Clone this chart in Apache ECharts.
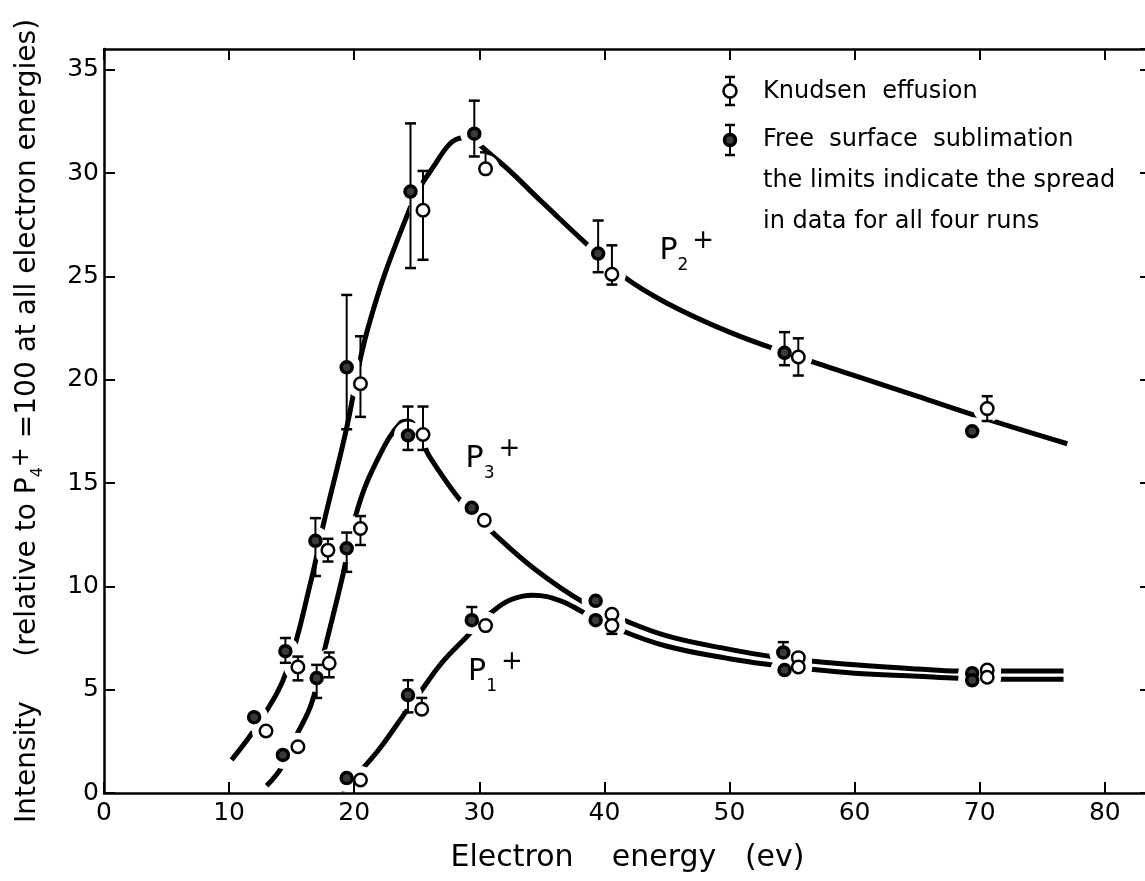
<!DOCTYPE html>
<html>
<head>
<meta charset="utf-8">
<script src="https://cdn.jsdelivr.net/npm/echarts@6/dist/echarts.min.js"></script>
<style>
html,body{margin:0;padding:0;background:#fff;}
#chart{width:1145px;height:881px;}
</style>
</head>
<body>
<div id="chart"></div>
<script>
// fitted curves: [electron energy (ev), intensity]
var p2Curve=[[10.2,1.6],[12.5,3.5],[14.6,5.9],[16.6,10.4],[17.5,12.9],[19.3,17.4],[21.1,22.5],[24.2,27.9],[26.1,30.1],[28.7,31.7],[31.3,30.7],[35,28.6],[38.7,26.5],[41.5,25.0],[45,23.7],[50,22.3],[55,21.2],[60,20.2],[65,19.2],[70,18.2],[77,16.9]];
var p3Curve=[[13.0,0.35],[14.2,1.25],[15.4,2.8],[16.6,4.35],[17.7,7.1],[19.0,10.3],[20.3,13.8],[22,16.3],[23.7,17.9],[24.3,18.0],[26.1,16.2],[28.7,14.0],[30.9,12.7],[34.5,10.8],[38.4,9.2],[41.2,8.45],[45,7.6],[50,6.95],[53.4,6.6],[56.3,6.4],[60,6.2],[65,6.0],[68.3,5.9],[71.2,5.9],[76.7,5.9]];
var p1Curve=[[19.0,0.1],[20.7,1.2],[22.1,2.2],[24.1,3.9],[25.3,4.9],[27,6.3],[28.9,7.5],[30.9,8.7],[32.5,9.35],[34.3,9.57],[36.5,9.3],[38.3,8.75],[41.2,7.9],[45,7.1],[50,6.5],[53.4,6.2],[56.3,6.0],[60,5.8],[65,5.65],[68.3,5.55],[71.2,5.5],[76.7,5.5]];

// measured points: [ev, intensity, lower limit, upper limit]
var knudsen=[
    [12.95,3.0,3.0,3.0],[15.5,6.1,5.45,6.6],[17.9,11.75,11.2,12.3],[20.5,19.8,18.2,22.1],[25.5,28.2,25.8,30.1],
    [30.5,30.2,30.2,31.0],[40.6,25.1,24.6,26.5],[55.5,21.1,20.2,22.0],[70.6,18.6,18.0,19.2],
    [15.5,2.24,2.24,2.24],[18.0,6.28,5.6,6.8],[20.5,12.8,12.0,13.4],[25.5,17.35,16.6,18.7],[30.4,13.2,13.2,13.2],
    [40.6,8.65,8.65,8.65],[55.5,6.55,6.55,6.55],[70.6,5.95,5.95,5.95],
    [20.5,0.63,0.63,0.63],[25.4,4.05,4.05,4.6],[30.5,8.1,8.1,8.1],[40.6,8.1,7.7,8.1],[55.5,6.1,6.1,6.1],[70.6,5.6,5.6,5.6]
];
var freeSurface=[
    [12.0,3.67,3.67,3.67],[14.5,6.86,6.3,7.5],[16.9,12.2,10.5,13.3],[19.4,20.6,17.6,24.1],[24.5,29.1,25.4,32.4],
    [29.6,31.9,30.8,33.5],[39.5,26.1,25.2,27.7],[54.4,21.3,20.7,22.3],[69.4,17.5,17.5,17.5],
    [14.3,1.84,1.84,1.84],[17.0,5.56,4.6,6.2],[19.4,11.84,10.7,12.6],[24.3,17.3,16.6,18.7],[29.4,13.8,13.8,13.8],
    [39.3,9.3,9.3,9.3],[54.3,6.8,6.8,7.3],[69.4,5.8,5.8,5.8],
    [19.4,0.72,0.72,0.72],[24.3,4.74,3.9,5.46],[29.4,8.36,8.36,9.0],[39.3,8.36,8.36,8.36],[54.4,5.95,5.95,5.95],[69.4,5.45,5.45,5.45]
];

// curve labels: [subscript, ev, intensity]
var curveLabels=[['2',44.4,26.2],['3',28.9,16.15],['1',29.1,5.85]];

var xMax=83.7, yMax=36;
var font='DejaVu Sans';

var allPoints=knudsen.concat(freeSurface);
var bars=allPoints.filter(function(p){return p[2]<p[1]||p[3]>p[1];});

function errorBar(params,api){
    var x=api.value(0),y=api.value(1),lo=api.value(2),hi=api.value(3);
    var top=api.coord([x,hi]),bot=api.coord([x,lo]),w=5.5;
    var kids=[{type:'line',shape:{x1:top[0],y1:top[1],x2:bot[0],y2:bot[1]},style:{stroke:'#000',lineWidth:2}}];
    if(hi>y) kids.push({type:'line',shape:{x1:top[0]-w,y1:top[1],x2:top[0]+w,y2:top[1]},style:{stroke:'#000',lineWidth:2.5}});
    if(lo<y) kids.push({type:'line',shape:{x1:bot[0]-w,y1:bot[1],x2:bot[0]+w,y2:bot[1]},style:{stroke:'#000',lineWidth:2.5}});
    return {type:'group',children:kids};
}

function curve(data){
    return {type:'line',data:data,showSymbol:false,smooth:0.4,
        lineStyle:{color:'#000',width:5},z:2,silent:true};
}
function frameLine(){return {show:true,onZero:false,lineStyle:{color:'#000',width:2.5}};}
function tick(){return {show:true,inside:true,length:11,lineStyle:{color:'#000',width:2}};}

function legendBar(y,top,bottom,filled){
    return [
        {type:'line',shape:{x1:730,y1:top,x2:730,y2:bottom},style:{stroke:'#000',lineWidth:2},z:10},
        {type:'line',shape:{x1:725,y1:top,x2:735,y2:top},style:{stroke:'#000',lineWidth:2.5},z:10},
        {type:'line',shape:{x1:725,y1:bottom,x2:735,y2:bottom},style:{stroke:'#000',lineWidth:2.5},z:10},
        {type:'circle',shape:{cx:730,cy:y,r:filled?5.5:6.5},z:11,
            style:filled?{fill:'#3a3a3a',stroke:'#000',lineWidth:3.5}:{fill:'#fff',stroke:'#000',lineWidth:2.5}}
    ];
}
function legendText(y,t){
    return {type:'text',x:763,y:y,z:10,style:{text:t,fontSize:24,fontFamily:font,fill:'#000',verticalAlign:'middle'}};
}

var chart=echarts.init(document.getElementById('chart'));
chart.setOption({
    backgroundColor:'#fff',
    animation:false,
    grid:{left:104,top:49,width:xMax*12.51,height:744,containLabel:false,outerBoundsMode:'none'},
    xAxis:[
        {type:'value',position:'bottom',min:0,max:xMax,interval:10,z:10,
            axisLine:frameLine(),axisTick:tick(),splitLine:{show:false},
            axisLabel:{color:'#000',fontSize:25,fontFamily:font,margin:8,showMaxLabel:false,
                formatter:function(v){return v%10===0?v:'';}},
            name:'Electron    energy   (ev)',nameLocation:'middle',nameGap:50,
            nameTextStyle:{color:'#000',fontSize:30,fontFamily:font}},
        {type:'value',position:'top',min:0,max:xMax,interval:10,z:10,
            axisLine:frameLine(),axisTick:tick(),splitLine:{show:false},axisLabel:{show:false}}
    ],
    yAxis:[
        {type:'value',position:'left',min:0,max:yMax,interval:5,z:10,
            axisLine:frameLine(),axisTick:tick(),splitLine:{show:false},
            axisLabel:{color:'#000',fontSize:25,fontFamily:font,margin:5,showMaxLabel:false,
                formatter:function(v){return v%5===0?v:'';}},
            name:'Intensity     (relative to P{s|4}{u|+} =100 at all electron energies)',
            nameLocation:'middle',nameGap:58,nameRotate:90,
            nameTextStyle:{color:'#000',fontSize:28,fontFamily:font,
                rich:{s:{fontSize:16,fontFamily:font,color:'#000',verticalAlign:'bottom',lineHeight:36},
                      u:{fontSize:24,fontFamily:font,color:'#000',verticalAlign:'top',lineHeight:36}}}},
        {type:'value',position:'right',min:0,max:yMax,interval:5,z:10,
            axisLine:frameLine(),axisTick:tick(),splitLine:{show:false},axisLabel:{show:false}}
    ],
    graphic:[].concat(
        legendBar(91,77,105,false),
        legendBar(140,125,155,true),
        [legendText(92,'Knudsen  effusion'),
         legendText(140,'Free  surface  sublimation'),
         legendText(181,'the limits indicate the spread'),
         legendText(222,'in data for all four runs')]
    ),
    series:[
        curve(p2Curve),curve(p3Curve),curve(p1Curve),
        {type:'scatter',data:allPoints,symbolSize:28,itemStyle:{color:'#fff',opacity:1},z:3,silent:true},
        {type:'custom',data:bars,renderItem:errorBar,encode:{x:0,y:[2,3]},z:4,silent:true},
        {type:'scatter',data:freeSurface,symbolSize:11,z:5,
            itemStyle:{color:'#3a3a3a',borderColor:'#000',borderWidth:3.5,opacity:1}},
        {type:'scatter',data:knudsen,symbolSize:12.5,z:6,
            itemStyle:{color:'#fff',borderColor:'#000',borderWidth:2.5,opacity:1}},
        {type:'scatter',data:curveLabels.map(function(l){return [l[1],l[2],l[0]];}),symbolSize:0,z:7,silent:true,
            itemStyle:{opacity:1},
            label:{show:true,position:[0,0],align:'left',verticalAlign:'middle',
                formatter:function(p){return 'P{s|'+p.value[2]+'}{u|+}';},
                color:'#000',fontSize:30,fontFamily:font,lineHeight:46,
                rich:{s:{fontSize:17,fontFamily:font,color:'#000',verticalAlign:'bottom',lineHeight:46},
                      u:{fontSize:26,fontFamily:font,color:'#000',verticalAlign:'top',lineHeight:46,padding:[0,0,0,4]}}}}
    ]
});
</script>
</body>
</html>
